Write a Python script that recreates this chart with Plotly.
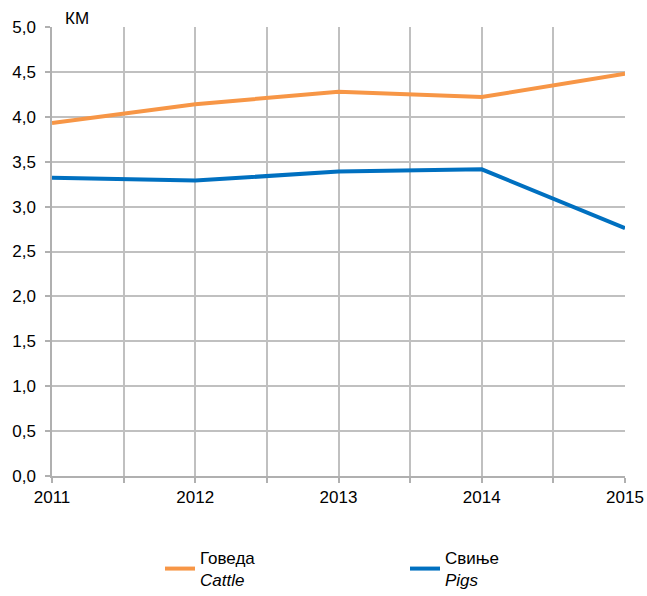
import plotly.graph_objects as go

years = [2011, 2012, 2013, 2014, 2015]
cattle = [3.93, 4.14, 4.28, 4.22, 4.48]
pigs = [3.32, 3.29, 3.39, 3.415, 2.76]
cattle_name = "Говеда<br><i>Cattle</i>"
pigs_name = "Свиње<br><i>Pigs</i>"
unit_label = "КМ"
y_ticks = [0.0, 0.5, 1.0, 1.5, 2.0, 2.5, 3.0, 3.5, 4.0, 4.5, 5.0]

font_family = "Liberation Sans, Arial, sans-serif"
fs = 17

# x ticks every half year, labels only on whole years
x_tickvals = []
x_ticktext = []
for i, yr in enumerate(years):
    x_tickvals.append(yr)
    x_ticktext.append(str(yr))
    if i < len(years) - 1:
        x_tickvals.append(yr + 0.5)
        x_ticktext.append("")

fig = go.Figure()
fig.add_trace(go.Scatter(x=years, y=cattle, mode="lines", name=cattle_name,
                         line=dict(color="#F79646", width=4)))
fig.add_trace(go.Scatter(x=years, y=pigs, mode="lines", name=pigs_name,
                         line=dict(color="#0070C0", width=4)))

fig.update_layout(
    width=647, height=596,
    margin=dict(l=52, r=22, t=27, b=120),
    paper_bgcolor="white", plot_bgcolor="white",
    font=dict(family=font_family, size=fs, color="#000000"),
    separators=",.",
    showlegend=True,
    legend=dict(orientation="h", xref="container", yref="container",
                x=160 / 647, xanchor="left", y=0.094, yanchor="top",
                entrywidth=200, entrywidthmode="pixels",
                font=dict(family=font_family, size=fs, color="#000000")),
    annotations=[dict(text=unit_label, xref="paper", yref="paper", x=0.02, y=1.0,
                      xanchor="left", yanchor="bottom", showarrow=False, yshift=-3,
                      font=dict(family=font_family, size=fs, color="#000000"))],
)
fig.update_xaxes(range=[years[0], years[-1]], tickvals=x_tickvals, ticktext=x_ticktext,
                 showgrid=True, gridcolor="#C0C0C0", gridwidth=1.5,
                 showline=True, linecolor="#B0B0B0", linewidth=1.5,
                 ticks="outside", ticklen=5, tickcolor="#B0B0B0", tickwidth=1.5,
                 ticklabelstandoff=0, automargin=False,
                 zeroline=False, tickfont=dict(size=fs))
fig.update_yaxes(range=[0, 5], tickvals=y_ticks, tickformat=".1f",
                 showgrid=True, gridcolor="#C0C0C0", gridwidth=1.5,
                 showline=True, linecolor="#B0B0B0", linewidth=1.5,
                 ticks="outside", ticklen=5, tickcolor="#B0B0B0", tickwidth=1.5,
                 ticklabelstandoff=6, automargin=False,
                 zeroline=False, tickfont=dict(size=fs))

fig.write_html("out.html", config={"displayModeBar": False},
               post_script="document.body.style.margin='0px';")
